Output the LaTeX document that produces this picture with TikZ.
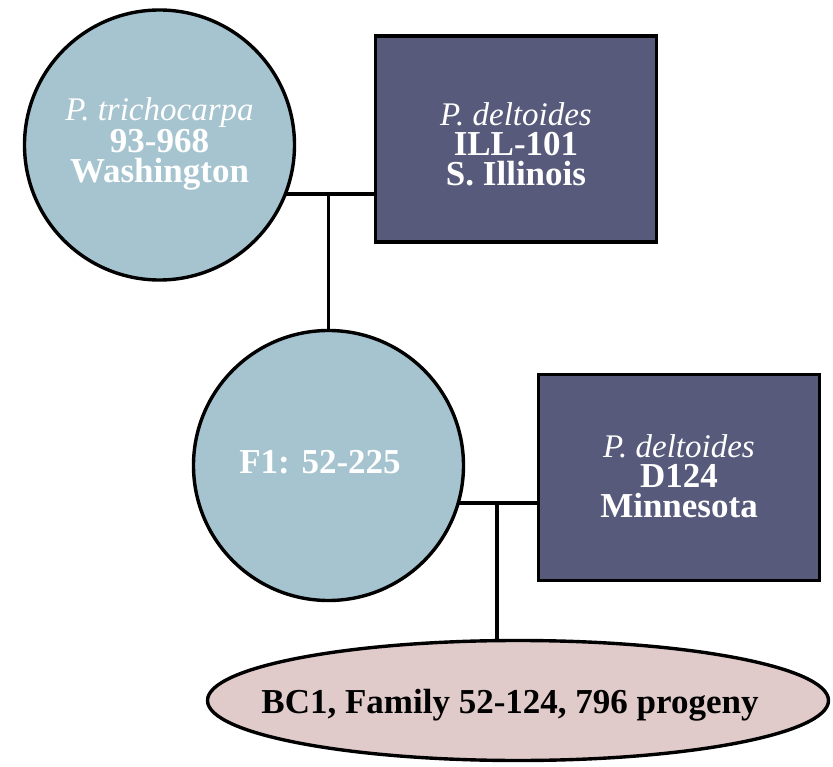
\documentclass[tikz,border=0pt]{standalone}
\usepackage{fontspec}
\setmainfont{Liberation Serif}
\usetikzlibrary{shapes.geometric,backgrounds}
\definecolor{circfill}{HTML}{A5C4CF}
\definecolor{rectfill}{HTML}{575A7A}
\definecolor{ellfill}{HTML}{E0CBCA}
\tikzset{
  parentc/.style={circle,draw=black,line width=3.4pt,fill=circfill,minimum size=270pt,inner sep=0pt},
  parentr/.style={rectangle,draw=black,line width=3.4pt,fill=rectfill,minimum width=281pt,minimum height=206pt,inner sep=0pt},
  progeny/.style={ellipse,draw=black,line width=3.4pt,fill=ellfill,minimum width=621pt,minimum height=120pt,inner sep=0pt},
  lbl/.style={text=white,align=center,font=\fontsize{35}{30}\selectfont\bfseries,inner sep=0pt},
  elbl/.style={text=black,font=\fontsize{35}{35}\selectfont\bfseries,inner sep=0pt},
  conn/.style={draw=black,line width=3.4pt}
}
\newcommand{\spc}[1]{{\fontsize{33}{30}\selectfont\mdseries\itshape #1}}
\begin{document}
\begin{tikzpicture}[x=1pt,y=-1pt]
\useasboundingbox (0,0) rectangle (833,767);
% shapes
\node[parentc] (c1) at (159.5,145) {};
\node[parentr] (r1) at (516,139) {};
\node[parentc] (c2) at (328.5,465.5) {};
\node[parentr] (r2) at (679,477.5) {};
\node[progeny] (e) at (518,700.5) {};
% labels
\node[lbl] (t1) at (159.5,144) {\spc{P. trichocarpa}\\93-968\\Washington};
\node[lbl] (t2) at (516,144) {\spc{P. deltoides}\\ILL-101\\S. Illinois};
\node[lbl] (t3) at (320,462) {F1: 52-225};
\node[lbl] (t4) at (679,476) {\spc{P. deltoides}\\D124\\Minnesota};
\node[elbl] (t5) at (510,705) {BC1, Family 52-124, 796 progeny};
% connectors
\coordinate (j1) at (328.5,194);
\coordinate (j2) at (497,503);
\begin{scope}[on background layer]
  \draw[conn] (c1.center |- j1) -- (r1.west |- j1);
  \draw[conn] (j1) -- (c2.center);
  \draw[conn] (c2.center |- j2) -- (r2.west |- j2);
  \draw[conn] (j2) -- (j2 |- e.center);
\end{scope}
\end{tikzpicture}
\end{document}
